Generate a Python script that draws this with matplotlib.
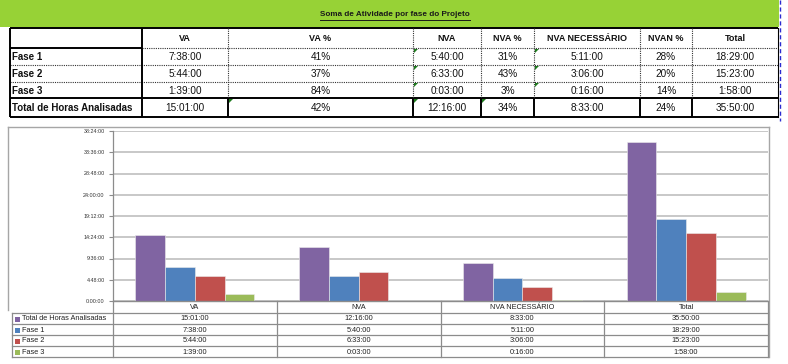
import matplotlib
matplotlib.use("Agg")
import matplotlib.pyplot as plt
from matplotlib.lines import Line2D
from matplotlib.patches import Rectangle, Polygon
from matplotlib.ticker import FuncFormatter, MultipleLocator
import matplotlib.transforms as mtransforms

plt.rcParams['font.family'] = ['Liberation Sans', 'DejaVu Sans']

# ---------------- data ----------------
title = "Soma de Atividade por fase do Projeto"
categories = ["VA", "NVA", "NVA NECESSÁRIO", "Total"]
series_names = ["Total de Horas Analisadas", "Fase 1", "Fase 2", "Fase 3"]
total_horas = ["15:01:00", "12:16:00", "8:33:00", "35:50:00"]
fase1 = ["7:38:00", "5:40:00", "5:11:00", "18:29:00"]
fase2 = ["5:44:00", "6:33:00", "3:06:00", "15:23:00"]
fase3 = ["1:39:00", "0:03:00", "0:16:00", "1:58:00"]
va_pct = ["41%", "37%", "84%", "42%"]      # Fase 1, Fase 2, Fase 3, Total
nva_pct = ["31%", "43%", "3%", "34%"]
nvan_pct = ["28%", "20%", "14%", "24%"]
table_headers = ["", "VA", "VA %", "NVA", "NVA %", "NVA NECESSÁRIO", "NVAN %", "Total"]
table_rows = ["Fase 1", "Fase 2", "Fase 3", "Total de Horas Analisadas"]
colors = ["#8064A2", "#4F81BD", "#C0504D", "#9BBB59"]


def to_hours(s):
    h, m, sec = s.split(":")
    return int(h) + int(m) / 60 + int(sec) / 3600


def fmt_hours(v, pos=None):
    tot = int(round(v * 60))
    return f"{tot // 60}:{tot % 60:02d}:00"


W, H = 788, 364
fig = plt.figure(figsize=(W / 100, H / 100), dpi=100)
fig.patch.set_facecolor("white")


def fx(x):
    return x / W


def fy(y):
    return 1 - y / H


def hline(x0, x1, y, **kw):
    fig.add_artist(Line2D([fx(x0), fx(x1)], [fy(y), fy(y)], transform=fig.transFigure, **kw))


def vline(x, y0, y1, **kw):
    fig.add_artist(Line2D([fx(x), fx(x)], [fy(y0), fy(y1)], transform=fig.transFigure, **kw))


def ftext(x, y, s, **kw):
    return fig.text(fx(x), fy(y), s, **kw)


# ---------------- top spreadsheet table ----------------
fig.add_artist(Rectangle((0, fy(27)), fx(779), 27 / H, transform=fig.transFigure,
                         facecolor="#97D236", edgecolor="none"))
t = ftext(395, 14, title, ha="center", va="center", fontsize=5.9, fontweight="bold", color="#1a1a1a")

cols = [10, 142, 228, 413, 481, 534, 640, 692, 778]
rows = [28, 48, 65, 82, 98, 117]

row_series = [fase1, fase2, fase3]
tbl_vals = []
for r in range(4):
    if r < 3:
        s = row_series[r]
        vals = [s[0], va_pct[r], s[1], nva_pct[r], s[2], nvan_pct[r], s[3]]
    else:
        vals = [total_horas[0], va_pct[3], total_horas[1], nva_pct[3], total_horas[2],
                nvan_pct[3], total_horas[3]]
    tbl_vals.append(vals)

for c in range(1, 8):
    ftext((cols[c] + cols[c + 1]) / 2, (rows[0] + rows[1]) / 2 + 0.5, table_headers[c],
          ha="center", va="center", fontsize=6.5, fontweight="bold", color="#111111")
for r in range(4):
    yc = (rows[r + 1] + rows[r + 2]) / 2 + 0.5
    ftext(cols[0] + 2, yc, table_rows[r], ha="left", va="center", fontsize=7.0,
          fontweight="bold", color="#111111")
    for c in range(7):
        ftext((cols[c + 1] + cols[c + 2]) / 2, yc, tbl_vals[r][c], ha="center", va="center",
              fontsize=7.2, color="#111111")

solid = dict(color="black", lw=1.4, solid_capstyle="butt")
dotted = dict(color="#333333", lw=0.8, linestyle=(0, (1, 1)))
hline(cols[0], cols[-1], rows[0], **solid)
hline(cols[0], cols[-1], rows[4], **solid)
hline(cols[0], cols[-1], rows[5], **solid)
hline(cols[0], cols[1], rows[1], **solid)
hline(cols[1], cols[-1], rows[1], **dotted)
for y in rows[2:4]:
    hline(cols[0], cols[-1], y, **dotted)
vline(cols[0], rows[0], rows[5], **solid)
vline(cols[1], rows[0], rows[5], **solid)
for x in cols[2:-1]:
    vline(x, rows[0], rows[4], **dotted)
    vline(x, rows[4], rows[5], **solid)
vline(cols[-1], rows[0], rows[5], color="black", lw=0.8)
vline(780, 0, 121, color="#2B2BD0", lw=1.0, linestyle=(0, (3, 2)))

# small green indicator triangles
tri_cells = [(3, 1), (3, 2), (3, 3), (3, 4), (5, 1), (5, 2), (5, 3), (2, 4), (4, 4)]
for c, r in tri_cells:
    x0, y0 = cols[c] + 1, rows[r] + 1
    fig.add_artist(Polygon([[fx(x0), fy(y0)], [fx(x0 + 4), fy(y0)], [fx(x0), fy(y0 + 4)]],
                           closed=True, transform=fig.transFigure, facecolor="#1E7B1E",
                           edgecolor="none"))

# ---------------- chart ----------------
frame_col = "#A6A6A6"
hline(8, 769, 127, color=frame_col, lw=1.0)
vline(8, 127, 310, color=frame_col, lw=1.0)
vline(769, 127, 357, color=frame_col, lw=1.0)

px0, px1, py0, py1 = 113, 768, 131, 301
ax = fig.add_axes([fx(px0), fy(py1), (px1 - px0) / W, (py1 - py0) / H])
ax.set_xlim(-0.5, 3.5)
ax.set_ylim(0, 38.4)
series = [total_horas, fase1, fase2, fase3]
bw = 119 / 164 / 4
for i, s in enumerate(series):
    vals = [to_hours(v) for v in s]
    xs = [k + (i - 1.5) * bw for k in range(len(categories))]
    ax.bar(xs, vals, width=bw, color=colors[i], edgecolor="#ECECEC", linewidth=0.4, zorder=3)

ax.yaxis.set_major_locator(MultipleLocator(4.8))
ax.yaxis.set_major_formatter(FuncFormatter(fmt_hours))
ax.grid(axis="y", color="#BFBFBF", lw=1.2, zorder=0)
ax.set_xticks([])
for sp in ["top", "right", "bottom"]:
    ax.spines[sp].set_visible(False)
ax.spines["left"].set_color("#8C8C8C")
ax.spines["left"].set_linewidth(0.9)
ax.tick_params(axis="y", length=3, width=0.8, color="#8C8C8C", labelsize=3.9,
               labelcolor="#333333", pad=3)
ax.set_facecolor("white")

# ---------------- chart data table ----------------
tcol = "#8C8C8C"
trows = [301, 313, 324, 335, 346, 357]
bounds = [px0 + (px1 - px0) * k / 4 for k in range(5)]
hline(px0, px1, trows[0], color=tcol, lw=1.0)
for y in trows[1:]:
    hline(12, px1, y, color=tcol, lw=0.9)
vline(12, trows[1], trows[-1], color=tcol, lw=0.9)
for x in bounds:
    vline(x, trows[0], trows[-1], color=tcol, lw=0.9)

blend = mtransforms.blended_transform_factory(ax.transData, fig.transFigure)
for k, cat in enumerate(categories):
    ax.text(k, fy((trows[0] + trows[1]) / 2 + 0.5), cat, transform=blend, ha="center",
            va="center", fontsize=5.3, color="#222222", clip_on=False)
for i, s in enumerate(series):
    yc = (trows[i + 1] + trows[i + 2]) / 2 + 0.5
    fig.add_artist(Rectangle((fx(15), fy(yc + 2.5)), 5 / W, 5 / H, transform=fig.transFigure,
                             facecolor=colors[i], edgecolor="none"))
    ftext(22, yc, series_names[i], ha="left", va="center", fontsize=5.3, color="#222222")
    for k, v in enumerate(s):
        ax.text(k, fy(yc), v, transform=blend, ha="center", va="center", fontsize=5.3,
                color="#222222", clip_on=False)

# underline the title
fig.canvas.draw()
bb = t.get_window_extent()
fig.add_artist(Line2D([bb.x0 / W, bb.x1 / W], [fy(19.5), fy(19.5)], transform=fig.transFigure,
                      color="#1a1a1a", lw=0.7))

fig.savefig("out.png", dpi=100, facecolor="white")
